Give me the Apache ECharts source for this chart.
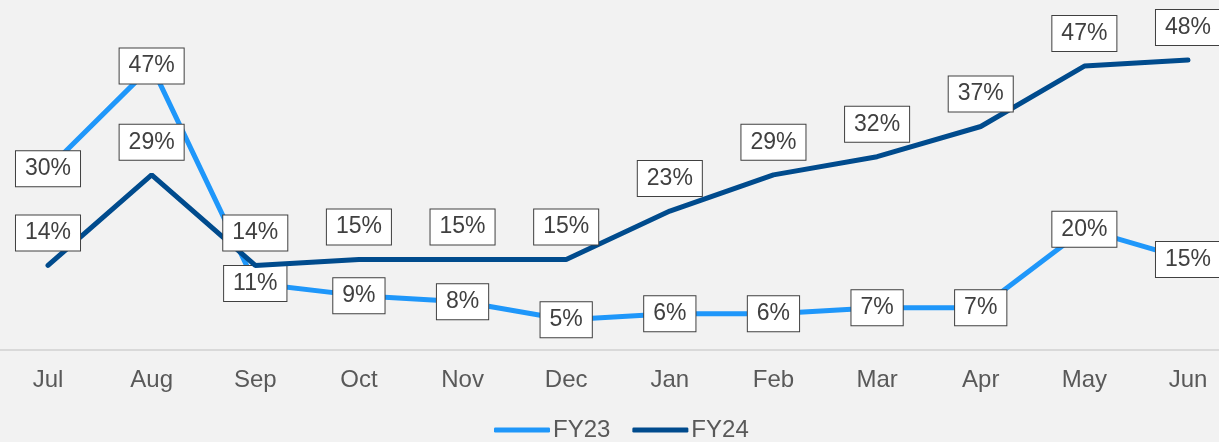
<!DOCTYPE html>
<html>
<head>
<meta charset="utf-8">
<script src="https://cdn.jsdelivr.net/npm/echarts@6/dist/echarts.min.js"></script>
<style>
html, body { margin: 0; padding: 0; background: #f2f2f2; }
#main { width: 1219px; height: 442px; }
</style>
</head>
<body>
<div id="main"></div>
<script>
var months = ['Jul', 'Aug', 'Sep', 'Oct', 'Nov', 'Dec', 'Jan', 'Feb', 'Mar', 'Apr', 'May', 'Jun'];
var fy23 = [30, 47, 11, 9, 8, 5, 6, 6, 7, 7, 20, 15];
var fy24 = [14, 29, 14, 15, 15, 15, 23, 29, 32, 37, 47, 48];

var chart = echarts.init(document.getElementById('main'));

var FONT = 'Liberation Sans, Arial, sans-serif';

// label box like the excel data labels
var boxLabel = {
    show: true,
    formatter: '{c}%',
    fontFamily: FONT,
    fontSize: 23,
    color: '#404040',
    backgroundColor: '#ffffff',
    borderColor: '#404040',
    borderWidth: 1,
    padding: [6, 9, 6, 9],
    lineHeight: 23
};

var option = {
    backgroundColor: '#f2f2f2',
    animation: false,
    grid: [
        { left: 48, right: 31, top: 48, bottom: 92 },
        { left: 0, right: 0, top: 48, bottom: 92 }   // only for the full width axis line
    ],
    legend: {
        top: 413,
        left: 489,
        data: ['FY23', 'FY24'],
        icon: 'roundRect',
        itemWidth: 56,
        itemHeight: 5,
        itemGap: 22,
        textStyle: {
            fontFamily: FONT,
            fontSize: 24,
            color: '#595959',
            padding: [0, 0, 0, -2]
        }
    },
    xAxis: [
        {
            type: 'category',
            gridIndex: 0,
            data: months,
            boundaryGap: false,
            axisLine: { show: false },
            axisTick: { show: false },
            axisLabel: {
                fontFamily: FONT,
                fontSize: 24,
                color: '#595959',
                margin: 18
            }
        },
        {
            type: 'category',
            gridIndex: 1,
            data: months,
            axisLine: { lineStyle: { color: '#d9d9d9', width: 2 } },
            axisTick: { show: false },
            axisLabel: { show: false }
        }
    ],
    yAxis: [
        { type: 'value', gridIndex: 0, min: 0, max: 50, show: false },
        { type: 'value', gridIndex: 1, min: 0, max: 50, show: false }
    ],
    series: [
        {
            name: 'FY23',
            type: 'line',
            data: fy23,
            symbol: 'circle',
            symbolSize: 0,
            lineStyle: { color: '#1f97fa', width: 5, cap: 'round' },
            itemStyle: { color: '#1f97fa' },
            label: Object.assign({ position: 'inside' }, boxLabel),
            z: 2
        },
        {
            name: 'FY24',
            type: 'line',
            data: fy24,
            symbol: 'circle',
            symbolSize: 0,
            lineStyle: { color: '#004b8d', width: 5, cap: 'round' },
            itemStyle: { color: '#004b8d' },
            label: Object.assign({ position: 'top', distance: 15 }, boxLabel),
            z: 3
        }
    ]
};

chart.setOption(option);
</script>
</body>
</html>
